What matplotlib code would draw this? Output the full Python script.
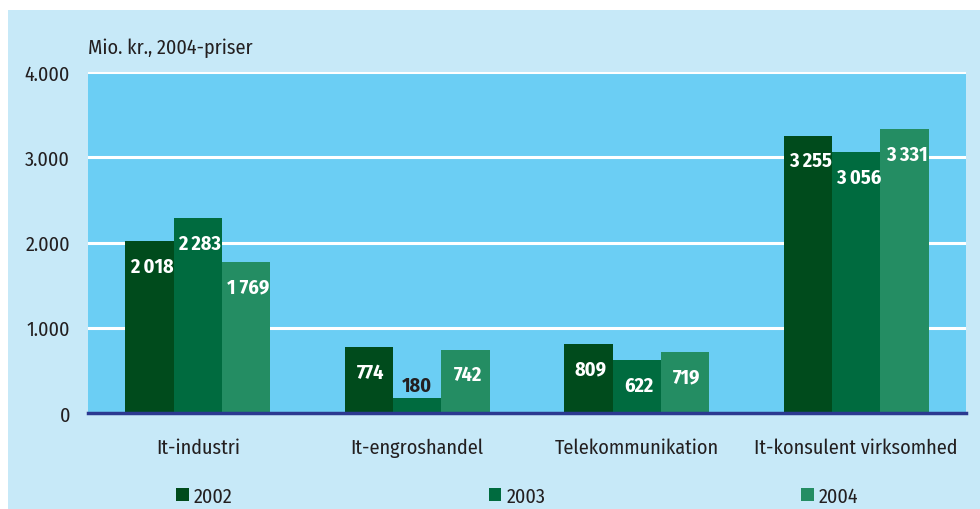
import numpy as np
import matplotlib.pyplot as plt
from matplotlib.patches import Rectangle, Patch

# Data
categories = ['It-industri', 'It-engroshandel', 'Telekommunikation', 'It-konsulent virksomhed']
years = ['2002', '2003', '2004']
values = {
    '2002': [2018, 774, 809, 3255],
    '2003': [2283, 180, 622, 3056],
    '2004': [1769, 742, 719, 3331],
}
yticks = [0, 1000, 2000, 3000, 4000]
ytick_labels = ['0', '1.000', '2.000', '3.000', '4.000']

colors = {'2002': '#004B1C', '2003': '#006B3F', '2004': '#248D63'}
outer_bg = '#C7E9F8'
plot_bg = '#6BCEF4'

plt.rcParams['font.family'] = ['Fira Sans Condensed', 'Noto Sans', 'DejaVu Sans']

fig = plt.figure(figsize=(9.8, 5.1), dpi=100)
fig.patches.append(Rectangle((8 / 980, 0), 1 - 8 / 980, 499 / 510,
                             transform=fig.transFigure, facecolor=outer_bg,
                             edgecolor='none', zorder=-10))
ax = fig.add_axes([88 / 980, 96 / 510, 878 / 980, 341 / 510])
ax.set_facecolor(plot_bg)

x = np.arange(len(categories))
w = 0.22
for i, yr in enumerate(years):
    pos = x + (i - 1) * w
    ax.bar(pos, values[yr], width=w, color=colors[yr], zorder=3, label=yr)
    for xp, v in zip(pos, values[yr]):
        s = f'{v:,}'.replace(',', ' ')
        if v < 400:
            # short bar: label sits just above it in dark text
            ax.text(xp, v + 30, s, ha='center', va='bottom', color='#231F20',
                    fontsize=14.5, fontweight='bold', zorder=4)
        else:
            ax.annotate(s, (xp, v), xytext=(1.5, -18), textcoords='offset points',
                        ha='center', va='center', color='white',
                        fontsize=14.5, fontweight='bold', zorder=4)

ax.set_xlim(-0.5, 3.5)
ax.set_ylim(0, 4000)
ax.set_yticks(yticks)
ax.set_yticklabels(ytick_labels)
ax.set_xticks(x)
ax.set_xticklabels(categories)
ax.tick_params(axis='both', length=0, labelsize=14.5, colors='#231F20')
ax.tick_params(axis='x', pad=18)
ax.tick_params(axis='y', pad=13)
ax.grid(axis='y', color='white', linewidth=2.2, zorder=1)
for sp in ['top', 'right', 'left']:
    ax.spines[sp].set_visible(False)
ax.spines['bottom'].set_color('#2B3990')
ax.spines['bottom'].set_linewidth(2.5)
ax.spines['bottom'].set_zorder(5)

fig.text(88 / 980, 1 - 48 / 510, 'Mio. kr., 2004-priser', fontsize=14.5,
         color='#231F20', va='center', ha='left')

handles = [Patch(facecolor=colors[yr], edgecolor='none') for yr in years]
fig.legend(handles, years, loc='center', bbox_to_anchor=(0.528, 13 / 510), ncol=3,
           frameon=False, fontsize=14.5, handlelength=0.63, handleheight=0.63,
           handletextpad=0.25, columnspacing=12.7, labelcolor='#231F20')

fig.savefig('out.png', dpi=100)
